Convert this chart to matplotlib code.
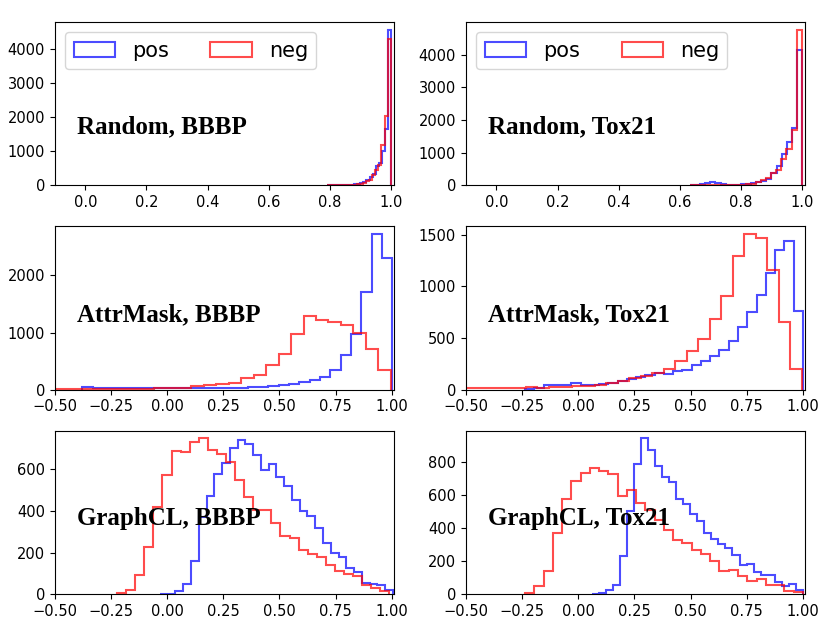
import matplotlib
matplotlib.use('Agg')
import matplotlib.pyplot as plt
import numpy as np

# panel labels
titles = ['Random, BBBP', 'Random, Tox21',
          'AttrMask, BBBP', 'AttrMask, Tox21',
          'GraphCL, BBBP', 'GraphCL, Tox21']

# (lo, hi) of the binned range for each series
pos_ranges = [(0.79, 1.0), (0.6333, 1.0), (-0.377, 1.003), (-0.237, 1.0), (-0.032, 1.005), (0.06, 1.0)]
neg_ranges = [(0.79, 0.999), (0.6333, 0.999), (-0.67, 0.996), (-0.54, 0.996), (-0.223, 0.99), (-0.237, 1.0)]

# bin counts, left to right
pos_random_bbbp = [0, 1, 2, 3, 4, 6, 10, 15, 20, 30, 40,
                   60, 90, 150, 250, 330, 560, 640, 1000, 1650, 4555]
neg_random_bbbp = [0, 1, 2, 2, 3, 5, 8, 12, 18, 25, 35,
                   50, 80, 120, 170, 300, 450, 600, 1170, 2020, 4280]

pos_random_tox = [10, 20, 40, 80, 100, 70, 40, 25, 20, 25, 30, 40,
                  60, 90, 130, 200, 370, 590, 950, 1330, 1760, 4130]
neg_random_tox = [3, 3, 4, 4, 4, 5, 6, 8, 10, 15, 20, 30,
                  50, 90, 150, 230, 370, 480, 810, 1100, 1700, 4760]

pos_attr_bbbp = [40, 28, 26, 25, 25, 26, 27, 27, 28, 28, 29, 30, 30, 30, 30, 35, 41, 52, 64, 82,
                 99, 128, 163, 222, 350, 600, 974, 1703, 2723, 2303]
neg_attr_bbbp = [20, 20, 19, 18, 18, 18, 18, 18, 19, 19, 20, 22, 25, 30, 58, 76, 105, 111, 204, 251,
                 426, 624, 974, 1283, 1213, 1184, 1137, 991, 711, 338]

pos_attr_tox = [10, 15, 42, 45, 48, 65, 50, 45, 55, 70, 85, 100, 119, 145, 161, 152, 177, 194, 235, 281,
                322, 387, 468, 603, 748, 919, 1129, 1355, 1435, 758]
neg_attr_tox = [19, 16, 16, 13, 13, 13, 23, 16, 23, 26, 32, 39, 48, 65, 87, 113, 129, 161, 203, 274,
                377, 494, 684, 910, 1290, 1506, 1468, 1161, 652, 203]

pos_gcl_bbbp = [2, 2, 14, 47, 157, 371, 471, 580, 631, 704, 741, 723, 668, 599, 627, 564, 522, 455, 398, 374,
                318, 246, 198, 178, 125, 108, 55, 50, 45, 21]
neg_gcl_bbbp = [6, 18, 93, 228, 418, 572, 689, 684, 734, 749, 695, 673, 635, 549, 466, 406, 403, 342, 278, 270,
                214, 194, 178, 138, 109, 98, 85, 42, 29, 13]

pos_gcl_tox = [2, 4, 26, 57, 234, 504, 788, 946, 873, 778, 713, 680, 575, 550, 487, 443, 372, 337, 305, 280,
               240, 179, 183, 134, 114, 114, 73, 51, 63, 26]
neg_gcl_tox = [6, 47, 138, 372, 575, 690, 737, 767, 751, 727, 599, 631, 554, 510, 453, 392, 331, 311, 270, 244,
               199, 142, 148, 112, 81, 91, 57, 53, 22, 12]

pos_counts = [pos_random_bbbp, pos_random_tox, pos_attr_bbbp, pos_attr_tox, pos_gcl_bbbp, pos_gcl_tox]
neg_counts = [neg_random_bbbp, neg_random_tox, neg_attr_bbbp, neg_attr_tox, neg_gcl_bbbp, neg_gcl_tox]


fig, axes = plt.subplots(3, 2, figsize=(8.3, 6.43), dpi=100)
plt.subplots_adjust(left=0.066, right=0.97, bottom=0.076, top=0.966, wspace=0.212, hspace=0.25)

for i, ax in enumerate(axes.flat):
    pc = np.array(pos_counts[i])
    nc = np.array(neg_counts[i])
    pe = np.linspace(pos_ranges[i][0], pos_ranges[i][1], len(pc) + 1)
    ne = np.linspace(neg_ranges[i][0], neg_ranges[i][1], len(nc) + 1)

    # step histograms from the binned counts
    ax.hist(pe[:-1], bins=pe, weights=pc, histtype='step', color='blue', alpha=0.7,
            linewidth=1.5, label='pos')
    ax.hist(ne[:-1], bins=ne, weights=nc, histtype='step', color='red', alpha=0.7,
            linewidth=1.5, label='neg')

    row = i // 2
    if row == 0:
        ax.set_xlim(-0.1, 1.01)
        ax.legend(loc='upper left', ncol=2, fontsize=15)
        ty = 0.32
    else:
        ax.set_xlim(-0.5, 1.01)
        ty = 0.42
    ax.set_ylim(bottom=0)
    ax.tick_params(labelsize=10.5)

    ax.text(0.065, ty, titles[i], transform=ax.transAxes, family='Liberation Serif',
            fontweight='bold', fontsize=18, va='baseline')

plt.savefig('out.png', dpi=100)
